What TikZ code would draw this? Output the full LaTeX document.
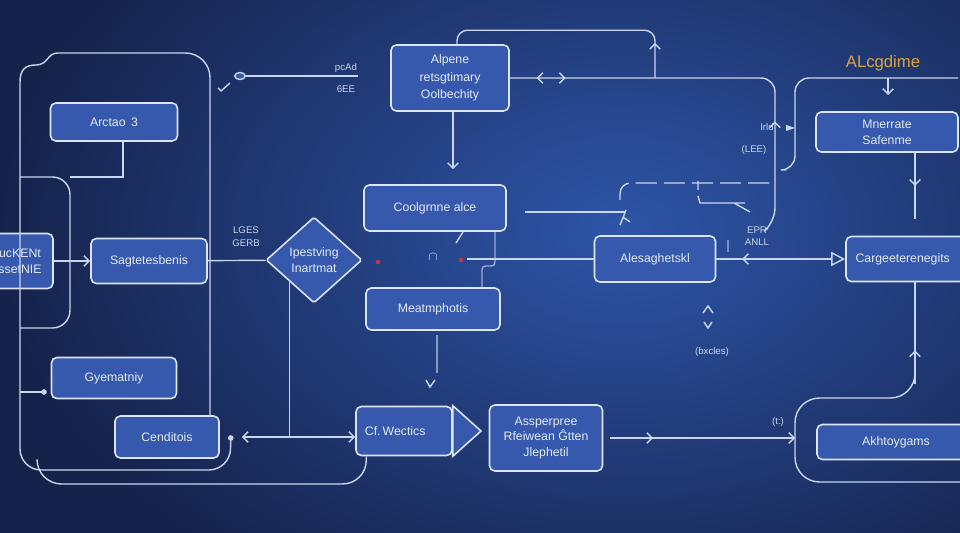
\documentclass[tikz,border=0pt]{standalone}
\usepackage{fontspec}
\setmainfont{Liberation Sans}
\usepackage{tikz}
\usetikzlibrary{arrows.meta, shapes, calc, decorations.markings}
\usepackage{xcolor}
\definecolor{bgdark}{HTML}{15224A}
\definecolor{bgmid}{HTML}{2E55A8}
\definecolor{boxfill}{HTML}{3659AD}
\definecolor{boxline}{HTML}{DCE5F7}
\definecolor{wirecol}{HTML}{C9D6EF}
\definecolor{txtcol}{HTML}{E3EAF8}
\definecolor{gold}{HTML}{D9A441}
\definecolor{dotred}{HTML}{C0384A}

\begin{document}
\begin{tikzpicture}[x=0.02cm, y=-0.02cm,
  blk/.style={draw=boxline, fill=boxfill, rounded corners=3pt, line width=0.9pt,
    text=txtcol, font=\fontsize{7}{9}\selectfont, align=center, inner sep=1pt},
  wire/.style={draw=wirecol, line width=0.8pt},
  tiny/.style={text=wirecol, font=\fontsize{5.5}{6}\selectfont, inner sep=0pt},
  >={Straight Barb[length=3pt, width=6pt]},
  midarr/.style={postaction={decorate, decoration={markings,
    mark=at position #1 with {\arrow[wirecol, line width=0.8pt]{>}}}}},
  midrev/.style={postaction={decorate, decoration={markings,
    mark=at position #1 with {\arrowreversed[wirecol, line width=0.8pt]{>}}}}}]

  % background
  \useasboundingbox (0,0) rectangle (960,533);
  \begin{scope}
    \clip (0,0) rectangle (960,533);
    \fill[bgdark] (0,0) rectangle (960,533);
    \shade[inner color=bgmid, outer color=bgdark] (620,230) ellipse (12.6cm and 8.6cm);
  \end{scope}

  % left column
  \node[blk, minimum width=2.54cm, minimum height=0.76cm]
  (arctao) at (114,122) {Arctao\, 3};
  \node[blk, minimum width=1.32cm, minimum height=1.1cm]
  (uckent) at (20,261) {ucKENt\\ssetNIE};
  \node[blk, minimum width=2.32cm, minimum height=0.9cm]
  (sagt) at (149,261) {Sagtetesbenis};
  \node[blk, minimum width=2.5cm, minimum height=0.82cm]
  (gyem) at (114,378) {Gyematniy};
  \node[blk, minimum width=2.08cm, minimum height=0.84cm]
  (cendi) at (167,437) {Cenditois};
  \node[blk, diamond, minimum width=1.92cm, minimum height=1.72cm, inner sep=0pt, rounded corners=1pt]
  (diam) at (314,260) {Ipestving\\Inartmat};

  % middle column
  \node[blk, minimum width=2.36cm, minimum height=1.32cm, font=\fontsize{7}{10}\selectfont]
  (alpene) at (450,78) {Alpene\\retsgtimary\\Oolbechity};
  \node[blk, minimum width=2.84cm, minimum height=0.92cm]
  (coolg) at (435,208) {Coolgrnne alce};
  \node[blk, minimum width=2.68cm, minimum height=0.84cm]
  (meatm) at (433,309) {Meatmphotis};
  \node[blk, minimum width=1.92cm, minimum height=0.98cm]
  (cfwect) at (404,431) {Cf.\,Wectics\hspace{10pt}};
  \coordinate (cftip) at (481,431);
  \filldraw[draw=boxline, fill=boxfill, line width=0.9pt]
  (cfwect.north east) -- (cftip) -- (cfwect.south east) -- cycle;
  \node[blk, minimum width=2.26cm, minimum height=1.32cm, font=\fontsize{7}{8.8}\selectfont]
  (assper) at (546,438) {Assperpree\\Rfeiwean Ĝtten\\Jlephetil};
  \node[blk, minimum width=2.42cm, minimum height=0.92cm]
  (alesa) at (655,259) {Alesaghetskl};

  % right column
  \node[blk, minimum width=2.84cm, minimum height=0.8cm]
  (mnerr) at (887,132) {Mnerrate\\Safenme};
  \node[blk, minimum width=2.76cm, minimum height=0.9cm]
  (carg) at (915,259) {Cargeeterenegits\hspace{14pt}};
  \node[blk, minimum width=3.16cm, minimum height=0.7cm]
  (akhto) at (896,442) {Akhtoygams};
  \node[text=gold, font=\fontsize{9.5}{10}\selectfont, inner sep=0pt]
  (ttl) at (883,63) {ALcgdime};

  % small labels
  \node[tiny] (lpcad) at (346,68) {pcAd};
  \node[tiny] (l6ee) at (346,89) {6EE};
  \node[tiny] (llges) at (246,230) {LGES};
  \node[tiny] (lgerb) at (246,243) {GERB};
  \node[tiny] (lirid) at (767,127) {Irld};
  \node[tiny] (llee) at (754,150) {(LEE)};
  \node[tiny] (lepr) at (757,230) {EPR};
  \node[tiny] (lanll) at (757,242) {ANLL};
  \node[tiny] (lbx) at (712,352) {(bxcles)};
  \node[tiny] (lt) at (778,422) {(t:)};

  % left frames
  \coordinate (cdot) at ($(cendi.east)+(11,1)$);
  \coordinate (inner) at (70,177);
  \coordinate (gdot) at (44,392);
  \draw[wire, rounded corners=14] (210,416) -- (210,53) -- (58,53);
  \draw[wire] (58,53) .. controls (47,53) and (48,65) .. (36,65)
  .. controls (25,65) and (20,70) .. (20,82);
  \draw[wire, rounded corners=12] (20,82) -- (20,470) -- (230,470) -- (cdot);
  \draw[wire, rounded corners=14] (37,460) -- (37,484) -- (367,484) -- ($(cfwect.south west)+(11,0)$);
  \draw[wire, rounded corners=10] (20,177) -- (inner) -- (70,328) -- (20,328);
  \draw[wire] ($(arctao.south)+(9,0)$) |- (inner);
  \draw[wire] (20,392) -- (gdot);
  \fill[wirecol] (gdot) circle (1.6pt);
  \fill[wirecol] (cdot) circle (1.6pt);

  % left flow
  \draw[wire, ->] (uckent) -- (sagt);
  \draw[wire] (sagt) -- (diam);
  \coordinate (jn) at (diam.south west |- cendi.east);
  \draw[wire] (diam.south west) -- (jn);
  \draw[wire, ->] (jn) -- ($(cendi.east)+(22,0)$);
  \draw[wire, ->] (jn) -- (jn -| cfwect.west);
  \coordinate (ldot) at (240,76);
  \draw[wire] (ldot) -- (358,76);
  \draw[wire, fill=boxfill] (ldot) ellipse (3pt and 2pt);
  \draw[wire] (218,88) -- (221,91) -- (230,83);

  % middle flow
  \coordinate (rj) at (655,78);
  \draw[wire, rounded corners=6, midarr=0.14]
  (rj) |- ($(alpene.north)+(7,-14)$) -- ($(alpene.north)+(7,0)$);
  \draw[wire, rounded corners=8, midrev=0.064, midarr=0.133, midrev=0.72]
  (alpene.east) -- (775,78) -- (775,222) -- (768,228);
  \draw[wire, ->, shorten >=0.3cm] ($(alpene.south)+(3,0)$) -- ($(coolg.north)+(18,0)$);
  \draw[wire] ($(coolg.east)+(18,4)$) -- ($(coolg.east)+(119,4)$);
  \draw[wire] (626,210) -- (620,225) (623,217) -- (630,222);
  \draw[wire] (463,232) -- (456,243);
  \coordinate (mj) at (467,259);
  \draw[wire] (mj) -- (alesa.west);
  \fill[dotred] (461,260) circle (1.3pt);
  \fill[dotred] (378,262) circle (1.3pt);
  \node[tiny, font=\fontsize{7}{7}\selectfont] (hat) at (433,257) {$\cap$};
  \draw[wire, rounded corners=2, opacity=0.7] (495,232) -- (495,266) -- (482,266) -- ($(meatm.north)+(49,0)$);
  \draw[wire, opacity=0.6] ($(meatm.south)+(4,4)$) -- ++(0,38);
  \draw[wire] (426,380) -- (430,387) -- (435,380);
  \coordinate (rcl) at (795,438);
  \draw[wire, ->, shorten <=0.14cm, midarr=0.26] (assper.east) -- (rcl);

  % right flow
  \draw[wire, dashed, dash pattern=on 12pt off 4pt, rounded corners=6] (620,200) -- (620,183) -- (770,183);
  \draw[wire] (698,181) -- (698,190) (698,196) -- (700,203) -- (745,203) (734,203) -- (750,212);
  \draw[wire, opacity=0.5] (728,240) -- (728,252);
  \draw[wire] (703,313) -- (708,306) -- (713,313) (704,322) -- (708,328) -- (712,322);
  \draw[wire, -{Triangle[open, length=8pt, width=8pt]}, midrev=0.2] (alesa.east) -- (carg.west);
  \coordinate (rtop) at (915,384);
  \draw[wire, rounded corners=14] (975,482) -- (795,482) -- (795,398) -- (915,398) -- (rtop);
  \draw[wire, midarr=0.33] (rtop) -- (carg.south);
  \draw[wire, rounded corners=8] (786,170) -- (795,170) -- (795,78) -- (958,78);
  \fill[wirecol] (786,125) -- (795,128) -- (786,131) -- cycle;
  \coordinate (mtop) at (888,78);
  \draw[wire, ->] (mtop) -- ++(0,17);
  \draw[wire, midarr=0.5] ($(mnerr.south)+(28,0)$) -- ++(0,66);
\end{tikzpicture}
\end{document}
